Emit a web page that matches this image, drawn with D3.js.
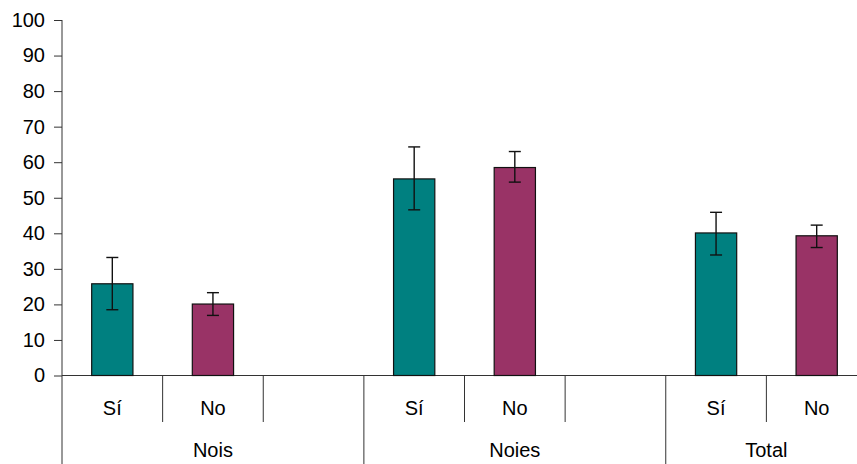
<!DOCTYPE html>
<html>
<head>
<meta charset="utf-8">
<script src="https://cdn.jsdelivr.net/npm/d3@7"></script>
<style>
  body { margin: 0; background: #fff; }
  svg { display: block; font-family: "Liberation Sans", Arial, sans-serif; }
</style>
</head>
<body>
<div id="chart"></div>
<script>
// data
const groups = ["Nois", "Noies", "Total"]
const answers = ["Sí", "No"]
const means = [[25.8, 20.1], [55.3, 58.5], [40.1, 39.3]]
const errLow = [[18.5, 16.9], [46.6, 54.4], [33.9, 36.0]]
const errHigh = [[33.2, 23.3], [64.3, 63.0], [45.9, 42.3]]
const yTicks = [0, 10, 20, 30, 40, 50, 60, 70, 80, 90, 100]

const colors = { "Sí": "#008080", "No": "#993366" }

const width = 857
const height = 464

const svg = d3
  .select("#chart")
  .append("svg")
  .attr("width", width)
  .attr("height", height)

// slots: each group gets Sí, No and an empty slot (last group has no empty one)
let slots = []
groups.forEach(function (g, gi) {
  answers.forEach(function (a, ai) {
    slots.push({ key: g + "|" + a, group: g, answer: a, gi: gi, ai: ai })
  })
  if (gi < groups.length - 1) slots.push({ key: g + "|", group: g, answer: "", gi: gi })
})

const x = d3.scaleBand().domain(slots.map(d => d.key)).range([62, 867]).padding(0)
const y = d3.scaleLinear().domain([0, 100]).range([375.5, 20])

// y axis
const yAxis = svg.append("g")
  .attr("transform", "translate(62,0)")
  .call(d3.axisLeft(y).tickValues(yTicks).tickSize(8).tickPadding(9))
yAxis.select(".domain").remove()
yAxis.selectAll(".tick line").attr("stroke", "#333")
yAxis.selectAll(".tick text")
  .style("font-size", "20px")
  .attr("fill", "#000")
  .attr("font-family", "Liberation Sans, Arial, sans-serif")

// vertical axis line runs down through the category area
svg.append("line")
  .attr("x1", 62).attr("x2", 62)
  .attr("y1", y(100)).attr("y2", height)
  .attr("stroke", "#333")

// x axis line
svg.append("line")
  .attr("x1", 62).attr("x2", 867)
  .attr("y1", y(0)).attr("y2", y(0))
  .attr("stroke", "#333")

const bars = slots.filter(d => d.answer !== "")
const bw = x.bandwidth() * 0.41

// bars
svg.append("g")
  .selectAll("rect")
  .data(bars)
  .enter()
  .append("rect")
  .attr("x", d => x(d.key) + (x.bandwidth() - bw) / 2)
  .attr("width", bw)
  .attr("y", d => y(means[d.gi][d.ai]))
  .attr("height", d => y(0) - y(means[d.gi][d.ai]))
  .attr("fill", d => colors[d.answer])
  .attr("stroke", "#111")
  .attr("stroke-width", 1.2)

// error bars
const err = svg.append("g")
  .selectAll("g")
  .data(bars)
  .enter()
  .append("g")
  .attr("stroke", "#111")
  .attr("stroke-width", 1.4)
const cx = d => x(d.key) + x.bandwidth() / 2
err.append("line")
  .attr("x1", cx).attr("x2", cx)
  .attr("y1", d => y(errLow[d.gi][d.ai]))
  .attr("y2", d => y(errHigh[d.gi][d.ai]))
err.append("line")
  .attr("x1", d => cx(d) - 6).attr("x2", d => cx(d) + 6)
  .attr("y1", d => y(errHigh[d.gi][d.ai]))
  .attr("y2", d => y(errHigh[d.gi][d.ai]))
err.append("line")
  .attr("x1", d => cx(d) - 6).attr("x2", d => cx(d) + 6)
  .attr("y1", d => y(errLow[d.gi][d.ai]))
  .attr("y2", d => y(errLow[d.gi][d.ai]))

// category separators below the axis
slots.forEach(function (d, i) {
  if (i === 0) return
  let isGroupStart = d.gi !== slots[i - 1].gi
  svg.append("line")
    .attr("x1", x(d.key)).attr("x2", x(d.key))
    .attr("y1", y(0)).attr("y2", isGroupStart ? height : 422)
    .attr("stroke", "#333")
})
svg.append("line")
  .attr("x1", 867).attr("x2", 867)
  .attr("y1", y(0)).attr("y2", height)
  .attr("stroke", "#333")

// answer labels
svg.append("g")
  .selectAll("text")
  .data(bars)
  .enter()
  .append("text")
  .attr("x", cx)
  .attr("y", 415)
  .attr("text-anchor", "middle")
  .style("font-size", "20px")
  .text(d => d.answer)

// group labels, centred on each group's span
groups.forEach(function (g, gi) {
  let gs = slots.filter(d => d.gi === gi)
  let x0 = x(gs[0].key)
  let x1 = x(gs[gs.length - 1].key) + x.bandwidth()
  svg.append("text")
    .attr("x", (x0 + x1) / 2)
    .attr("y", 457)
    .attr("text-anchor", "middle")
    .style("font-size", "20px")
    .text(g)
})
</script>
</body>
</html>
